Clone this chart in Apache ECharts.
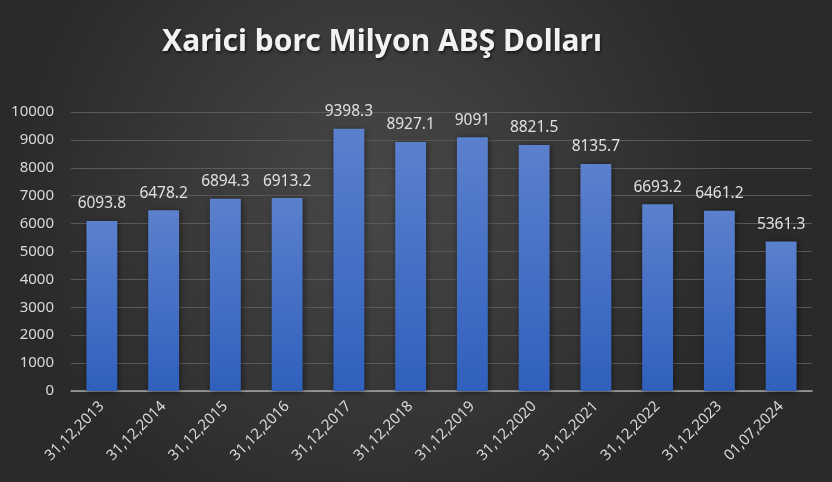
<!DOCTYPE html>
<html><head><meta charset="utf-8">
<script src="https://cdn.jsdelivr.net/npm/echarts@6/dist/echarts.min.js"></script>
<style>html,body{margin:0;padding:0;background:#333;}#c{width:832px;height:482px;}</style>
</head><body><div id="c"></div>
<script>
var categories = ["31,12,2013","31,12,2014","31,12,2015","31,12,2016","31,12,2017","31,12,2018","31,12,2019","31,12,2020","31,12,2021","31,12,2022","31,12,2023","01,07,2024"];
var values = [6093.8, 6478.2, 6894.3, 6913.2, 9398.3, 8927.1, 9091, 8821.5, 8135.7, 6693.2, 6461.2, 5361.3];
var titleText = "Xarici borc Milyon ABŞ Dolları";

var chart = echarts.init(document.getElementById('c'));
chart.setOption({
  backgroundColor: {
    type: 'radial', x: 0.45, y: 0.4, r: 0.75,
    colorStops: [{offset: 0, color: '#484848'}, {offset: 1, color: '#2a2a2a'}]
  },
  title: {
    text: titleText, left: 377, top: 22, textAlign: 'center',
    textStyle: {
      color: '#f2f2f2', fontFamily: 'Noto Sans', fontWeight: 'bold', fontSize: 30,
      textShadowColor: 'rgba(0,0,0,0.6)', textShadowBlur: 3, textShadowOffsetX: 1, textShadowOffsetY: 2
    }
  },
  grid: { left: 71, right: 20, top: 112, bottom: 91, containLabel: false },
  xAxis: {
    type: 'category', data: categories,
    axisLine: { lineStyle: { color: '#a6a6a6', width: 1.5 } },
    axisTick: { show: false },
    axisLabel: { color: '#d9d9d9', fontFamily: 'Noto Sans', fontSize: 15, rotate: 45, margin: 13, interval: 0 }
  },
  yAxis: {
    type: 'value', min: 0, max: 10000, interval: 1000,
    axisLine: { show: false }, axisTick: { show: false },
    axisLabel: { color: '#d9d9d9', fontFamily: 'Noto Sans', fontSize: 15, margin: 17,
      formatter: function (v) { return String(v); } },
    splitLine: { lineStyle: { color: '#5a5a5a', width: 1 } }
  },
  series: [{
    type: 'bar', data: values, barWidth: '50%',
    itemStyle: {
      color: { type: 'linear', x: 0, y: 0, x2: 0, y2: 1,
        colorStops: [{offset: 0, color: '#5b80cd'}, {offset: 1, color: '#3060bd'}] },
      shadowColor: 'rgba(0,0,0,0.5)', shadowBlur: 6, shadowOffsetX: 1, shadowOffsetY: 1
    },
    label: { show: true, position: 'top', distance: 9, color: '#e0e0e0', fontFamily: 'Noto Sans', fontSize: 15.5 }
  }]
});
</script></body></html>
